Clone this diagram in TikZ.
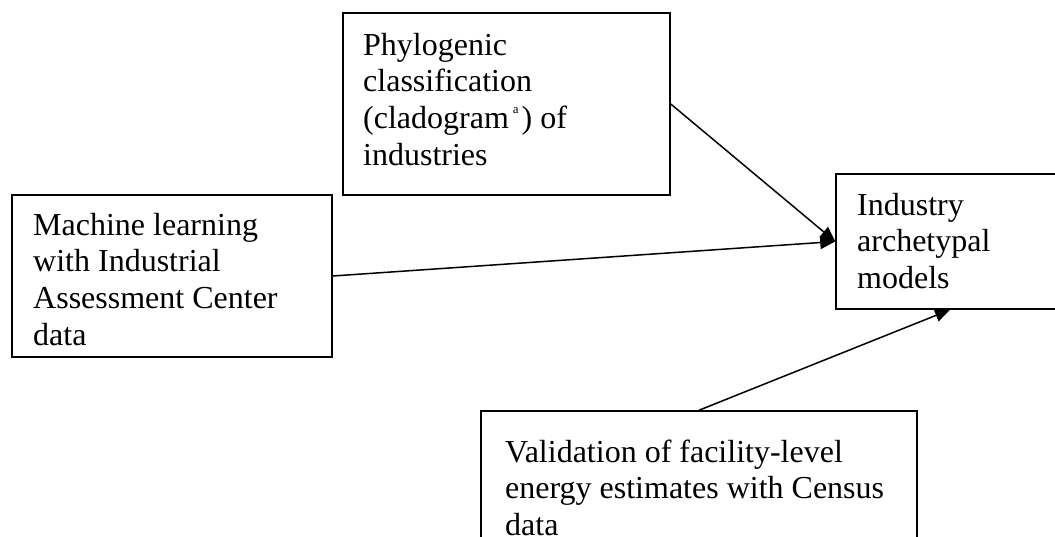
\documentclass[tikz,border=0pt]{standalone}
\usepackage{fontspec}
\setmainfont{Liberation Serif}
\usetikzlibrary{arrows.meta}
\begin{document}
\begin{tikzpicture}[x=1pt,y=-1pt,
  boxnode/.style={draw,line width=1.5pt,inner sep=0pt,minimum width=#1},
  label/.style={anchor=north west,inner sep=0pt,align=left,
    font=\fontsize{32}{36.7}\selectfont},
  conn/.style={line width=1.5pt,-{Triangle[length=15pt,width=13pt]}}]
\useasboundingbox (0,0) rectangle (1055,537);
\clip (0,0) rectangle (1055,537);
\node[boxnode=327pt,minimum height=182pt] (b1) at (506.5,104) {};
\node[boxnode=320pt,minimum height=162pt] (b2) at (172,276) {};
\node[boxnode=228pt,minimum height=135pt] (b3) at (950,241.5) {};
\node[boxnode=436pt,minimum height=154pt] (b4) at (699,488) {};
\node[label] (t1) at (363,29.3) {\strut Phylogenic\\classification\\(cladogram\kern4pt\raisebox{15pt}{\fontsize{13}{13}\selectfont a}\kern3pt) of\\industries};
\node[label] (t2) at (33,209.3) {\strut Machine learning\\with Industrial\\Assessment Center\\data};
\node[label] (t3) at (857,189.3) {\strut Industry\\archetypal\\models};
\node[label] (t4) at (505,436.3) {\strut Validation of facility-level\\energy estimates with Census\\data};
\draw[conn] (b1.east) -- (b3.west);
\draw[conn] (b2.east) -- (b3.west);
\draw[conn] (b4.north) -- (b3.south);
\end{tikzpicture}
\end{document}
